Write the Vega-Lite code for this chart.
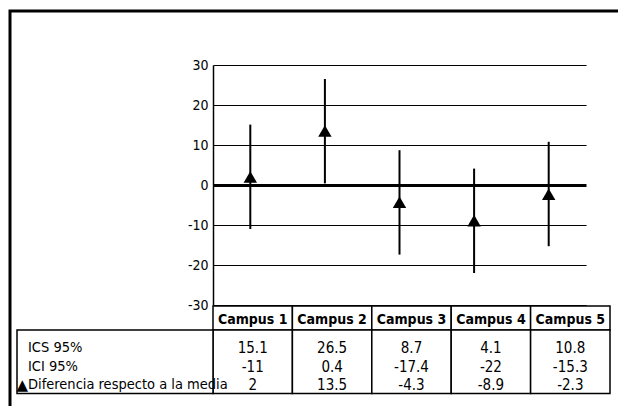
{
  "$schema": "https://vega.github.io/schema/vega-lite/v6.json",
  "width": 612,
  "height": 401,
  "autosize": "none",
  "padding": {"left": 10, "top": 11, "right": -4, "bottom": -6},
  "background": "white",
  "config": {
    "view": {"stroke": "black", "strokeWidth": 3},
    "font": "DejaVu Sans Condensed, Liberation Sans, sans-serif",
    "text": {"font": "DejaVu Sans Condensed, Liberation Sans, sans-serif", "fontSize": 15, "color": "black"}
  },
  "datasets": {
    "campus": [
      {"campus": "Campus 1", "ics": 15.1, "ici": -11, "dif": 2},
      {"campus": "Campus 2", "ics": 26.5, "ici": 0.4, "dif": 13.5},
      {"campus": "Campus 3", "ics": 8.7, "ici": -17.4, "dif": -4.3},
      {"campus": "Campus 4", "ics": 4.1, "ici": -22, "dif": -8.9},
      {"campus": "Campus 5", "ics": 10.8, "ici": -15.3, "dif": -2.3}
    ],
    "labels": [
      {"row": "ics", "label": "ICS 95%"},
      {"row": "ici", "label": "ICI 95%"},
      {"row": "dif", "label": "Diferencia respecto a la media"}
    ]
  },
  "layer": [
    {
      "data": {"name": "campus"},
      "encoding": {
        "x": {"field": "campus", "type": "nominal", "sort": null,
              "scale": {"type": "band", "range": [203, 576], "paddingInner": 0, "paddingOuter": 0},
              "axis": null}
      },
      "layer": [
        {
          "mark": {"type": "rule", "color": "black", "strokeWidth": 2},
          "encoding": {
            "y": {"field": "ici", "type": "quantitative",
                  "scale": {"domain": [-30, 30], "range": [294, 54], "nice": false, "zero": false},
                  "axis": {"orient": "left", "offset": -203, "values": [-30, -20, -10, 0, 10, 20, 30],
                           "ticks": false, "domainColor": "black", "domainWidth": 1.5,
                           "grid": true, "gridColor": "black", "gridOpacity": 1,
                           "gridWidth": {"condition": {"test": "datum.value === 0", "value": 3}, "value": 1.2},
                           "labelColor": "black", "labelFont": "DejaVu Sans Condensed, Liberation Sans, sans-serif", "labelFontSize": 14,
                           "labelPadding": 5, "labelExpr": "'' + datum.value", "title": null}},
            "y2": {"field": "ics"}
          }
        },
        {
          "mark": {"type": "point", "shape": "triangle-up", "filled": true, "color": "black", "size": 180, "opacity": 1},
          "encoding": {"y": {"field": "dif", "type": "quantitative"}}
        }
      ]
    },
    {
      "data": {"name": "campus"},
      "encoding": {
        "x": {"field": "campus", "type": "nominal", "sort": null,
              "scale": {"type": "band", "range": [203, 600], "paddingInner": 0, "paddingOuter": 0},
              "axis": null}
      },
      "layer": [
        {
          "encoding": {
            "y": {"datum": "head", "type": "nominal",
                  "scale": {"type": "band", "domain": ["head"], "range": [295, 319], "paddingInner": 0, "paddingOuter": 0},
                  "axis": null}
          },
          "layer": [
            {"mark": {"type": "rect", "fill": "white", "stroke": "black", "strokeWidth": 1.5}},
            {"mark": {"type": "text", "fontWeight": "bold", "fontSize": 14, "baseline": "middle", "dy": 1.5},
             "encoding": {"text": {"field": "campus"}}}
          ]
        },
        {
          "mark": {"type": "rect", "fill": "white", "stroke": "black", "strokeWidth": 1.5},
          "encoding": {
            "y": {"datum": "body", "type": "nominal",
                  "scale": {"type": "band", "domain": ["body"], "range": [319, 382.5], "paddingInner": 0, "paddingOuter": 0},
                  "axis": null}
          }
        },
        {
          "transform": [{"fold": ["ics", "ici", "dif"], "as": ["row", "val"]}],
          "mark": {"type": "text", "baseline": "middle", "fontSize": 15},
          "encoding": {
            "y": {"field": "row", "type": "nominal",
                  "scale": {"type": "point", "domain": ["ics", "ici", "dif"], "range": [337, 374], "padding": 0},
                  "axis": null},
            "text": {"field": "val", "type": "nominal"}
          }
        }
      ],
      "resolve": {"scale": {"y": "independent"}}
    },
    {
      "data": {"name": "labels"},
      "layer": [
        {
          "transform": [{"filter": "datum.row === 'ics'"}],
          "mark": {"type": "rect", "fill": "white", "stroke": "black", "strokeWidth": 1.5},
          "encoding": {
            "x": {"datum": "label", "type": "nominal",
                  "scale": {"type": "band", "domain": ["label"], "range": [7, 203], "paddingInner": 0, "paddingOuter": 0},
                  "axis": null},
            "y": {"datum": "body", "type": "nominal",
                  "scale": {"type": "band", "domain": ["body"], "range": [319, 382.5], "paddingInner": 0, "paddingOuter": 0},
                  "axis": null}
          }
        },
        {
          "encoding": {
            "y": {"field": "row", "type": "nominal",
                  "scale": {"type": "point", "domain": ["ics", "ici", "dif"], "range": [337, 374], "padding": 0},
                  "axis": null},
            "x": {"datum": "label", "type": "nominal", "bandPosition": 0}
          },
          "layer": [
            {
              "mark": {"type": "text", "align": "left", "baseline": "middle", "fontSize": 14.5, "dx": 11},
              "encoding": {"text": {"field": "label"}}
            },
            {
              "transform": [{"filter": "datum.row === 'dif'"}],
              "mark": {"type": "text", "text": "▲", "font": "DejaVu Sans", "align": "left", "baseline": "middle", "fontSize": 15, "dx": -0.5}
            }
          ]
        }
      ],
      "resolve": {"scale": {"y": "independent"}}
    }
  ],
  "resolve": {"scale": {"x": "independent", "y": "independent"}}
}
